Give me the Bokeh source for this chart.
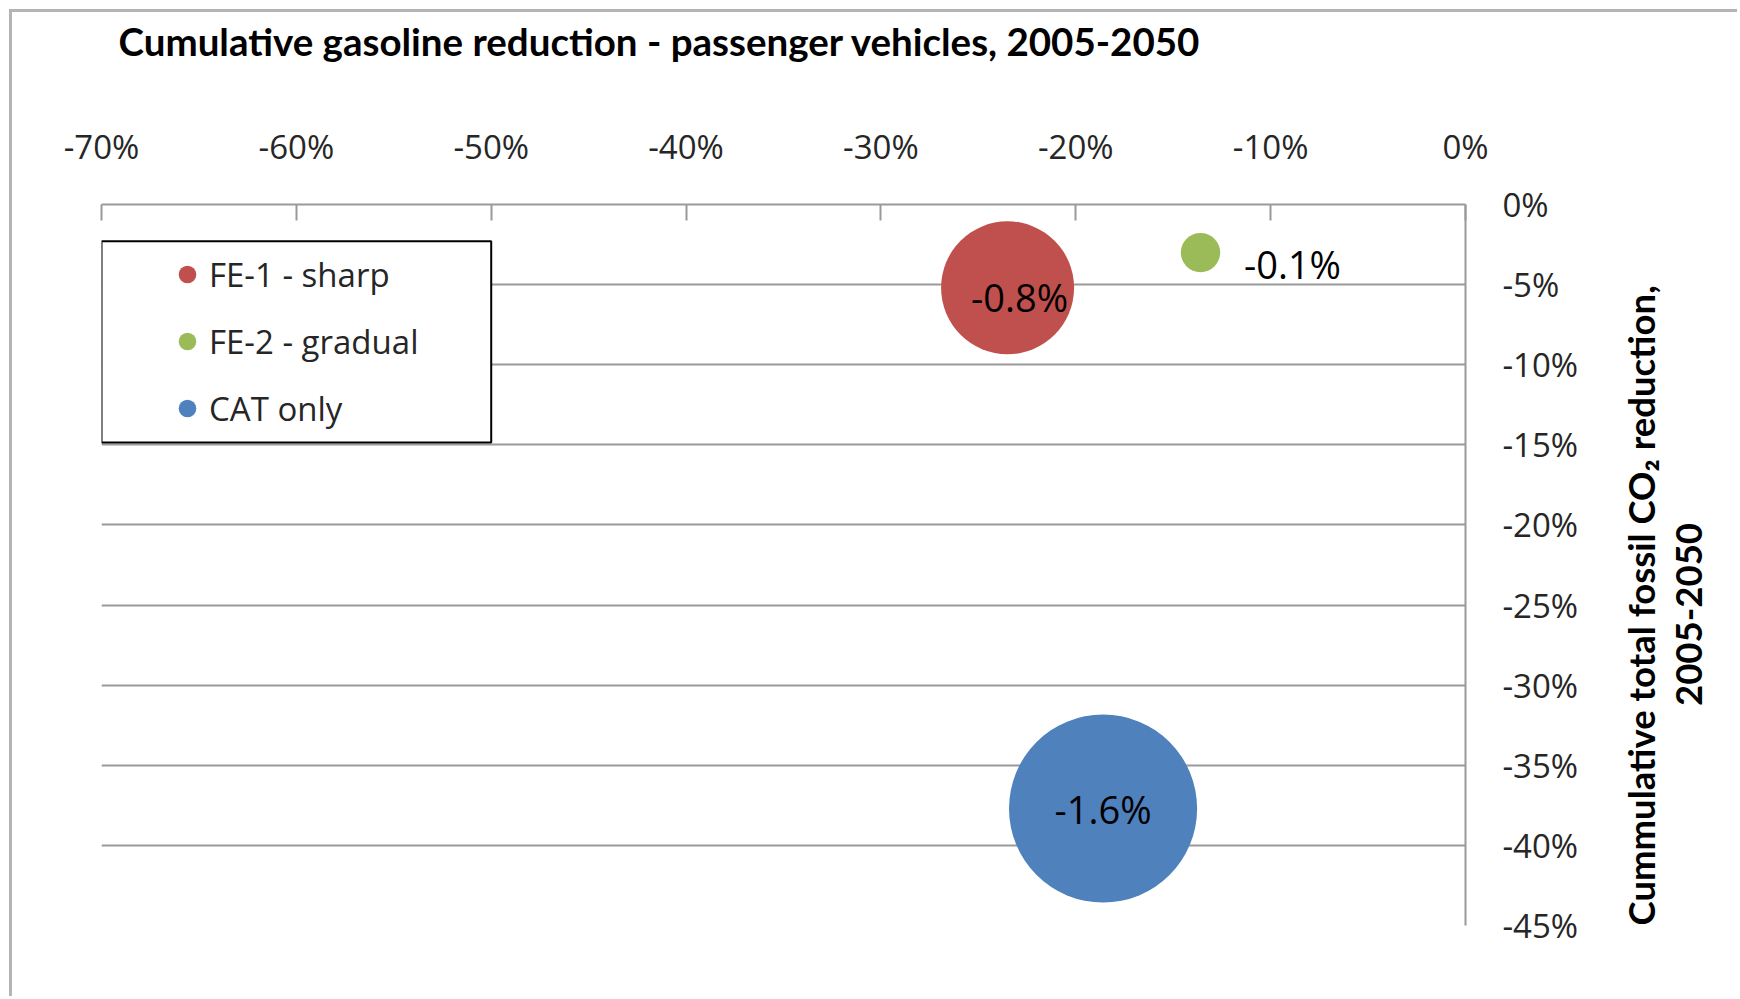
import math
from bokeh.plotting import figure
from bokeh.models import (ColumnDataSource, Range1d, FixedTicker, PrintfTickFormatter,
                          Legend, LegendItem, LinearAxis, BoxAnnotation)
from bokeh.core.properties import value
from bokeh.embed import file_html
from bokeh.resources import INLINE

# ---------------- data ----------------
scenarios = ["FE-1 - sharp", "FE-2 - gradual", "CAT only"]
gasoline_reduction = [-23.5, -13.6, -18.6]      # x, % cumulative gasoline reduction
co2_reduction = [-5.2, -3.0, -37.7]             # y, % cumulative fossil CO2 reduction
bubble_value = [-0.8, -0.07, -1.6]              # bubble size value (%)
x_ticks = [-70, -60, -50, -40, -30, -20, -10, 0]
y_ticks = [0, -5, -10, -15, -20, -25, -30, -35, -40, -45]
title_text = "Cumulative gasoline reduction - passenger vehicles, 2005-2050"
y_title_1 = "Cummulative total fossil CO\u2082 reduction,"
y_title_2 = "2005-2050"

# ---------------- styles ----------------
colors = ["#C0504D", "#9BBB59", "#4F81BD"]
label_dx = [12, 92, 0]
label_dy = [9, 11, 0]
SIZE_K = 133 / math.sqrt(0.8)
GRID = "#9a9a9a"
TXT = "#262626"
# where the rotated y-title lines start (they read bottom-to-top)
Y_TITLE_1_START = -45
Y_TITLE_2_START = -31.3

src = ColumnDataSource(dict(
    x=gasoline_reduction,
    y=co2_reduction,
    size=[SIZE_K * math.sqrt(abs(v)) for v in bubble_value],
    color=colors,
    label=[f"{v:.1f}%" for v in bubble_value],
    dx=label_dx,
    dy=label_dy,
))

p = figure(width=1728, height=987,
           x_range=Range1d(-70, 0), y_range=Range1d(-45, 0),
           x_axis_location="above", y_axis_location="right",
           output_backend="svg", toolbar_location=None,
           min_border_left=89, min_border_right=275,
           min_border_top=192, min_border_bottom=74,
           outline_line_color=None,
           styles={"margin-left": "9px", "margin-top": "9px",
                   "border-left": "3px solid #b4b4b4",
                   "border-top": "3px solid #b4b4b4"})

# title
p.title.text = title_text
p.title.align = "left"
p.title.offset = 17
p.title.standoff = 4
p.title.vertical_align = "bottom"
p.title.text_font = "Lato"
p.title.text_font_style = "bold"
p.title.text_font_size = "38.5px"
p.title.text_color = "black"

# axes
xa = p.xaxis[0]
xa.ticker = FixedTicker(ticks=x_ticks)
xa.formatter = PrintfTickFormatter(format="%d%%")
xa.major_tick_in = 16
xa.major_tick_out = 0
xa.minor_tick_line_color = None
xa.axis_line_color = GRID
xa.axis_line_width = 2
xa.major_tick_line_color = GRID
xa.major_tick_line_width = 2
xa.major_label_standoff = 36
xa.major_label_text_font = "Open Sans"
xa.major_label_text_font_size = "33px"
xa.major_label_text_color = TXT

# invisible spacer between the top tick labels and the title
spacer = LinearAxis(ticker=FixedTicker(ticks=[x_ticks[0]]),
                    major_label_overrides={x_ticks[0]: ""},
                    major_tick_out=55, major_tick_in=0,
                    minor_tick_out=0, minor_tick_in=0, major_label_standoff=0,
                    axis_line_color=None, major_tick_line_color=None,
                    minor_tick_line_color=None)
p.add_layout(spacer, "above")

ya = p.yaxis[0]
ya.ticker = FixedTicker(ticks=y_ticks)
ya.formatter = PrintfTickFormatter(format="%d%%")
ya.major_tick_in = 0
ya.major_tick_out = 0
ya.minor_tick_line_color = None
ya.axis_line_color = GRID
ya.axis_line_width = 2
ya.major_label_standoff = 37
ya.major_label_text_font = "Open Sans"
ya.major_label_text_font_size = "33px"
ya.major_label_text_color = TXT


def title_axis(text, start, standoff):
    ax = LinearAxis(ticker=FixedTicker(ticks=[start]),
                    major_label_overrides={start: text},
                    major_label_orientation=math.pi / 2,
                    major_label_standoff=standoff,
                    axis_line_color=None, major_tick_line_color=None,
                    minor_tick_line_color=None,
                    major_tick_in=0, major_tick_out=0,
                    major_label_text_font="Lato", major_label_text_font_style="bold",
                    major_label_text_font_size="36.5px", major_label_text_color="black")
    p.add_layout(ax, "right")
    return ax


title_axis(y_title_1, Y_TITLE_1_START, 59)
title_axis(y_title_2, Y_TITLE_2_START, 2)

p.xgrid.visible = False
p.ygrid.grid_line_color = GRID
p.ygrid.grid_line_width = 2

# bubbles
r = p.scatter(x="x", y="y", size="size", source=src, marker="circle",
              fill_color="color", line_color="color", line_alpha=0, fill_alpha=1)

# data labels
p.text(x="x", y="y", text="label", source=src, x_offset="dx", y_offset="dy",
       text_align="center", text_baseline="middle",
       text_font=value("Open Sans"), text_font_size="38px", text_color="black")

# legend frame
p.add_layout(BoxAnnotation(left=-70, right=-50, top=-2.3, bottom=-14.85,
                           fill_color="white", fill_alpha=1,
                           line_color="black", line_width=2, line_alpha=1))

legend = Legend(items=[LegendItem(label=n, renderers=[r], index=i) for i, n in enumerate(scenarios)],
                location=(64, 492), orientation="vertical",
                glyph_width=44, glyph_height=50, label_height=50,
                label_standoff=0, padding=0, spacing=17, margin=0,
                border_line_color=None, background_fill_alpha=0,
                label_text_font="Open Sans", label_text_font_size="33px",
                label_text_color=TXT)
p.add_layout(legend, "center")

open("out.html", "w").write(file_html(p, INLINE))
